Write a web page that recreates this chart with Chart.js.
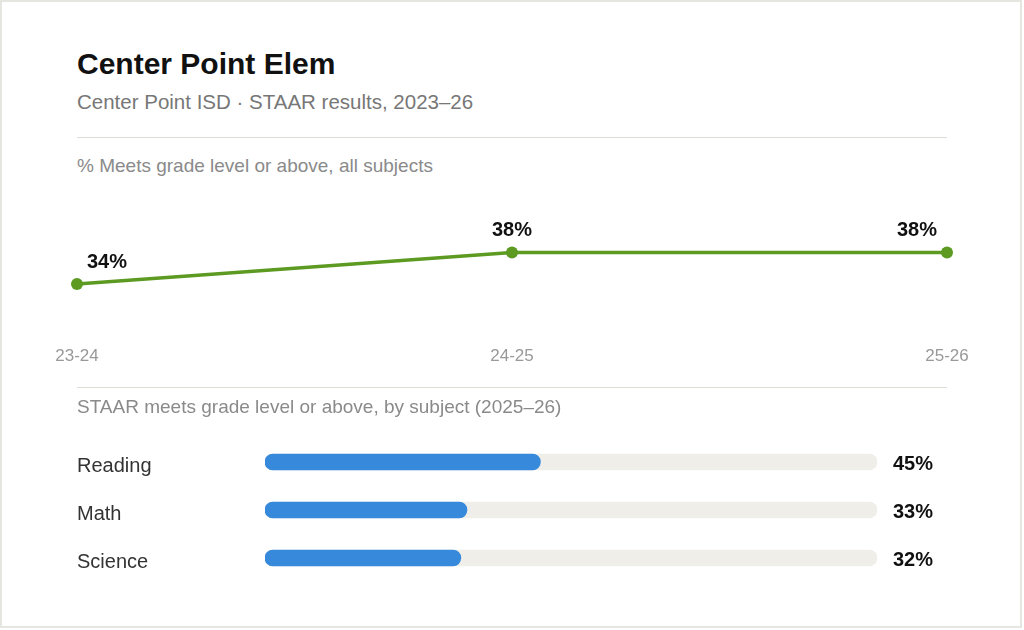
<!DOCTYPE html>
<html>
<head>
<meta charset="utf-8">
<script src="https://cdn.jsdelivr.net/npm/chart.js@4.4.1/dist/chart.umd.min.js"></script>
<style>
  html, body { margin: 0; padding: 0; background: #fff; }
  body { font-family: "Liberation Sans", Arial, sans-serif; }
  .card {
    position: relative; width: 1022px; height: 628px;
    box-sizing: border-box; border: 2px solid #e6e6e0; background: #fff; overflow: hidden;
  }
  .t { position: absolute; left: 75px; line-height: 1; white-space: nowrap; }
  .title { top: 47px; font-size: 30px; font-weight: bold; color: #111; }
  .sub { top: 90px; font-size: 20.5px; color: #777; }
  .lbl { font-size: 19px; color: #8a8a8a; }
  .rule { position: absolute; left: 75px; width: 870px; height: 1px; background: #deded9; }
  canvas { position: absolute; left: -2px; }
</style>
</head>
<body>
<div class="card">
  <div class="t title">Center Point Elem</div>
  <div class="t sub">Center Point ISD · STAAR results, 2023–26</div>
  <div class="rule" style="top:135px"></div>
  <div class="t lbl" style="top:154px">% Meets grade level or above, all subjects</div>
  <div id="lineBox" style="position:absolute;left:0;top:189px;width:1024px;height:222px"><canvas id="trendChart"></canvas></div>
  <div class="rule" style="top:385px"></div>
  <div class="t lbl" style="top:395px">STAAR meets grade level or above, by subject (2025–26)</div>
  <div id="barBox" style="position:absolute;left:0;top:418px;width:1024px;height:180px"><canvas id="subjectChart"></canvas></div>
</div>
<script>
// ===================================================================
// DADOS
// ===================================================================
const years = ['23-24', '24-25', '25-26'];
const meetsAll = [34, 38, 38];

const subjects = ['Reading', 'Math', 'Science'];
const meetsBySubject = [45, 33, 32];
const trackFull = [100, 100, 100];

const FONT = '"Liberation Sans", Arial, sans-serif';
const GREEN = '#5c9a22';
const BLUE = '#3789dc';

// rótulos de valor sobre os pontos da linha
const pointLabels = {
    id: 'pointLabels',
    afterDatasetsDraw(chart) {
        const ctx = chart.ctx;
        const pts = chart.getDatasetMeta(0).data;
        ctx.save();
        ctx.font = 'bold 20px ' + FONT;
        ctx.fillStyle = '#111';
        ctx.textBaseline = 'middle';
        pts.forEach((p, i) => {
            let x = p.x;
            if (i === 0) { ctx.textAlign = 'left'; x += 10; }
            else if (i === pts.length - 1) { ctx.textAlign = 'right'; x -= 10; }
            else { ctx.textAlign = 'center'; }
            ctx.fillText(meetsAll[i] + '%', x, p.y - 22);
        });
        ctx.restore();
    }
};

new Chart(document.getElementById('trendChart'), {
    type: 'line',
    data: {
        labels: years,
        datasets: [{
            data: meetsAll,
            borderColor: GREEN,
            backgroundColor: GREEN,
            borderWidth: 3.5,
            pointRadius: 6,
            pointBackgroundColor: GREEN,
            pointBorderWidth: 0,
            tension: 0,
            clip: false
        }]
    },
    options: {
        responsive: true,
        maintainAspectRatio: false,
        animation: false,
        layout: { padding: { left: 77, right: 77, top: 30, bottom: 15 } },
        plugins: { legend: { display: false }, tooltip: { enabled: false } },
        scales: {
            x: {
                grid: { display: false, drawTicks: false },
                border: { display: false },
                ticks: { color: '#999', font: { family: FONT, size: 17 }, padding: 31, maxRotation: 0 },
                afterFit(scale) { scale.paddingLeft = 0; scale.paddingRight = 0; }
            },
            y: { display: false, min: 30, max: 42 }
        }
    },
    plugins: [pointLabels]
});

// rótulos das matérias e percentuais
const barLabels = {
    id: 'barLabels',
    afterDatasetsDraw(chart) {
        const ctx = chart.ctx;
        const yScale = chart.scales.y;
        ctx.save();
        ctx.textBaseline = 'middle';
        subjects.forEach((s, i) => {
            const y = yScale.getPixelForValue(i);
            ctx.textAlign = 'left';
            ctx.font = '20px ' + FONT;
            ctx.fillStyle = '#333';
            ctx.fillText(s, 77, y + 4);
            ctx.font = 'bold 20px ' + FONT;
            ctx.fillStyle = '#111';
            ctx.fillText(meetsBySubject[i] + '%', chart.chartArea.right + 16, y + 2);
        });
        ctx.restore();
    }
};

new Chart(document.getElementById('subjectChart'), {
    type: 'bar',
    data: {
        labels: subjects,
        datasets: [
            {
                data: meetsBySubject,
                backgroundColor: BLUE,
                borderRadius: 8,
                borderSkipped: false,
                barThickness: 16,
                grouped: false,
                order: 0
            },
            {
                data: trackFull,
                backgroundColor: '#efeee9',
                borderRadius: 8,
                borderSkipped: false,
                barThickness: 16,
                grouped: false,
                order: 1
            }
        ]
    },
    options: {
        indexAxis: 'y',
        responsive: true,
        maintainAspectRatio: false,
        animation: false,
        layout: { padding: { left: 265, right: 147, top: 18, bottom: 18 } },
        plugins: { legend: { display: false }, tooltip: { enabled: false } },
        scales: {
            x: { display: false, min: 0, max: 100 },
            y: { display: false }
        }
    },
    plugins: [barLabels]
});
</script>
</body>
</html>
